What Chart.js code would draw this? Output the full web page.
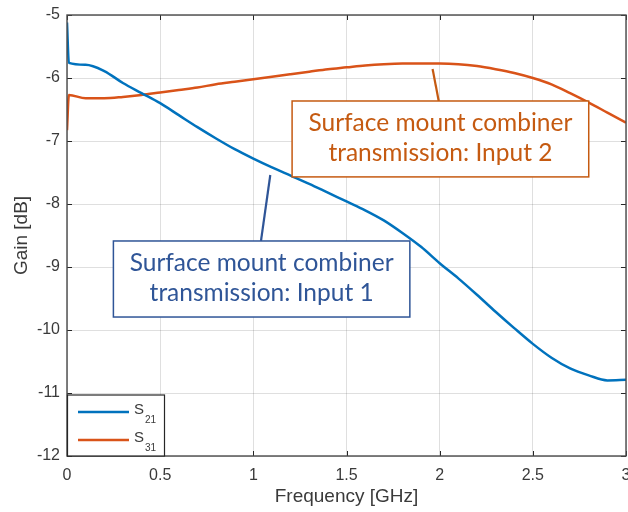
<!DOCTYPE html>
<html>
<head>
<meta charset="utf-8">
<script src="https://cdn.jsdelivr.net/npm/chart.js@4/dist/chart.umd.min.js"></script>
<style>
  html, body { margin: 0; padding: 0; background: #fff; }
  #wrap { width: 628px; height: 512px; }
</style>
</head>
<body>
<div id="wrap"><canvas id="gainChart" width="628" height="512"></canvas></div>
<script>
// S-parameter gain vs frequency, two combiner inputs

const freqGHz = [0, 0.01, 0.1, 0.2, 0.3, 0.4, 0.5, 0.6, 0.7, 0.8, 0.9, 1.0,
  1.1, 1.2, 1.3, 1.4, 1.5, 1.6, 1.7, 1.8, 1.9, 2.0,
  2.1, 2.2, 2.3, 2.4, 2.5, 2.6, 2.7, 2.8, 2.9, 3.0];
const s21 = [-5.12, -5.76, -5.79, -5.89, -6.08, -6.24, -6.40, -6.59, -6.78, -6.96, -7.13, -7.28,
  -7.42, -7.55, -7.68, -7.82, -7.96, -8.10, -8.26, -8.46, -8.68, -8.94,
  -9.18, -9.44, -9.71, -9.97, -10.22, -10.44, -10.61, -10.72, -10.80, -10.79];
const s31 = [-6.83, -6.27, -6.32, -6.32, -6.30, -6.27, -6.23, -6.19, -6.15, -6.10, -6.06, -6.02,
  -5.98, -5.94, -5.90, -5.86, -5.83, -5.80, -5.78, -5.77, -5.77, -5.77,
  -5.78, -5.81, -5.86, -5.92, -6.00, -6.10, -6.24, -6.39, -6.55, -6.71];
const seriesNames = ['S21', 'S31'];
const xTicks = [0, 0.5, 1, 1.5, 2, 2.5, 3];
const yTicks = [-12, -11, -10, -9, -8, -7, -6, -5];

const BLUE = '#0072BD', ORANGE = '#D95319';
const AXIS = '#262626', LABEL = '#3a3a3a', GRID = 'rgba(38,38,38,0.15)';
const SANS = 'Liberation Sans, Arial, sans-serif';

// callouts, placed in data coordinates (GHz, dB)
const callouts = [
  { lines: ['Surface mount combiner', 'transmission: Input 2'], color: '#C55A11',
    box: [1.208, -6.365, 2.80, -7.57], leader: [[1.962, -5.857], [1.995, -6.365]] },
  { lines: ['Surface mount combiner', 'transmission: Input 1'], color: '#2F5597',
    box: [0.249, -8.587, 1.840, -9.794], leader: [[1.091, -7.54], [1.041, -8.587]] }
];

const toXY = arr => freqGHz.map((f, i) => ({ x: f, y: arr[i] }));

const frame = {
  id: 'frame',
  afterDatasetsDraw(chart) {
    const { ctx, chartArea: a, scales: { x, y } } = chart;
    ctx.save();
    // inward ticks on all four sides
    ctx.strokeStyle = AXIS; ctx.lineWidth = 1;
    ctx.beginPath();
    xTicks.forEach(v => {
      const px = Math.round(x.getPixelForValue(v)) + 0.5;
      ctx.moveTo(px, a.bottom); ctx.lineTo(px, a.bottom - 5);
      ctx.moveTo(px, a.top); ctx.lineTo(px, a.top + 5);
    });
    yTicks.forEach(v => {
      const py = Math.round(y.getPixelForValue(v)) + 0.5;
      ctx.moveTo(a.left, py); ctx.lineTo(a.left + 5, py);
      ctx.moveTo(a.right, py); ctx.lineTo(a.right - 5, py);
    });
    ctx.stroke();
    ctx.strokeStyle = '#4a4a4a'; ctx.lineWidth = 1.4;
    ctx.strokeRect(a.left, a.top, a.right - a.left, a.bottom - a.top);

    // callouts
    callouts.forEach(c => {
      const l = x.getPixelForValue(c.box[0]), t = y.getPixelForValue(c.box[1]);
      const r = x.getPixelForValue(c.box[2]), b = y.getPixelForValue(c.box[3]);
      ctx.strokeStyle = c.color;
      ctx.lineWidth = 2.2;
      ctx.beginPath();
      ctx.moveTo(x.getPixelForValue(c.leader[0][0]), y.getPixelForValue(c.leader[0][1]));
      ctx.lineTo(x.getPixelForValue(c.leader[1][0]), y.getPixelForValue(c.leader[1][1]));
      ctx.stroke();
      ctx.fillStyle = '#fff';
      ctx.fillRect(l, t, r - l, b - t);
      ctx.lineWidth = 1.5;
      ctx.strokeRect(l, t, r - l, b - t);
      ctx.fillStyle = c.color;
      ctx.font = '24.5px Lato, "Open Sans", sans-serif';
      ctx.textAlign = 'center'; ctx.textBaseline = 'middle';
      const cx = (l + r) / 2, cy = (t + b) / 2;
      ctx.fillText(c.lines[0], cx, cy - 16);
      ctx.fillText(c.lines[1], cx, cy + 14);
    });

    // legend, bottom-left inside the axes
    const lx = a.left, lb = a.bottom, lw = 97, lh = 61;
    ctx.fillStyle = '#fff';
    ctx.fillRect(lx, lb - lh, lw, lh);
    ctx.strokeStyle = AXIS; ctx.lineWidth = 1.2;
    ctx.strokeRect(lx + 0.5, lb - lh, lw, lh);
    chart.data.datasets.forEach((ds, i) => {
      const ly = lb - lh + 17 + i * 28;
      ctx.strokeStyle = ds.borderColor; ctx.lineWidth = 2.5;
      ctx.beginPath(); ctx.moveTo(lx + 11, ly); ctx.lineTo(lx + 62, ly); ctx.stroke();
      ctx.fillStyle = LABEL; ctx.textAlign = 'left'; ctx.textBaseline = 'middle';
      ctx.font = '15px ' + SANS;
      ctx.fillText(ds.label[0], lx + 67, ly - 2);
      ctx.font = '10px ' + SANS;
      ctx.fillText(ds.label.slice(1), lx + 78, ly + 8);
    });
    ctx.restore();
  }
};

new Chart(document.getElementById('gainChart'), {
  type: 'line',
  data: {
    datasets: [
      { label: seriesNames[0], data: toXY(s21), borderColor: BLUE, borderWidth: 2.5,
        pointRadius: 0, cubicInterpolationMode: 'monotone' },
      { label: seriesNames[1], data: toXY(s31), borderColor: ORANGE, borderWidth: 2.5,
        pointRadius: 0, cubicInterpolationMode: 'monotone' }
    ]
  },
  options: {
    responsive: false, animation: false,
    layout: { padding: { left: 0, right: 2, top: 15, bottom: 0 } },
    plugins: { legend: { display: false }, tooltip: { enabled: false } },
    scales: {
      x: {
        type: 'linear', min: 0, max: 3,
        afterBuildTicks: s => { s.ticks = xTicks.map(v => ({ value: v })); },
        grid: { color: GRID, drawTicks: false }, border: { display: false },
        ticks: { padding: 10, color: LABEL, font: { family: SANS, size: 16 }, maxRotation: 0, autoSkip: false,
          callback: v => String(v) },
        title: { display: true, text: 'Frequency [GHz]', color: LABEL,
          font: { family: SANS, size: 19 }, padding: { top: 0, bottom: 4 } },
        afterFit: s => { s.height = 56; s.paddingLeft = 0; s.paddingRight = 0; }
      },
      y: {
        type: 'linear', min: -12, max: -5,
        afterBuildTicks: s => { s.ticks = yTicks.map(v => ({ value: v })); },
        grid: { color: GRID, drawTicks: false }, border: { display: false },
        ticks: { padding: 7, color: LABEL, font: { family: SANS, size: 16 }, autoSkip: false, callback: v => String(v) },
        title: { display: true, text: 'Gain [dB]', color: LABEL,
          font: { family: SANS, size: 19 }, padding: { top: 10, bottom: 0 } },
        afterFit: s => { s.width = 67; s.paddingTop = 0; s.paddingBottom = 0; }
      }
    }
  },
  plugins: [frame]
});
</script>
</body>
</html>
